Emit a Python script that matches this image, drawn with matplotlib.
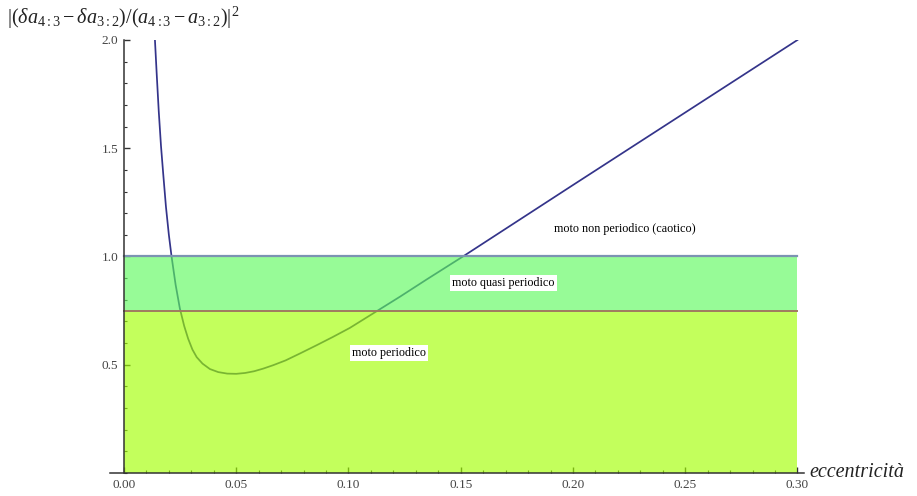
import matplotlib
matplotlib.use("Agg")
import matplotlib.pyplot as plt
from matplotlib.ticker import MultipleLocator, FormatStrFormatter

plt.rcParams["mathtext.fontset"] = "custom"
plt.rcParams["mathtext.rm"] = "Liberation Serif"
plt.rcParams["mathtext.it"] = "Liberation Serif:italic"
plt.rcParams["font.family"] = ["Liberation Serif", "DejaVu Serif"]

# eccentricity vs squared relative width of the resonances
ecc = [0.0138, 0.0146, 0.0155, 0.0165, 0.0175, 0.0187, 0.0200, 0.0212,
       0.0230, 0.0249, 0.0268, 0.0286, 0.0305, 0.0324, 0.0350, 0.0383,
       0.0420, 0.0460, 0.0500, 0.0540, 0.0580, 0.0620, 0.0665, 0.0720,
       0.0784, 0.0858, 0.0930, 0.1006, 0.1130, 0.1229, 0.1350, 0.1510,
       0.2000, 0.3000]
ratio = [2.00, 1.84, 1.67, 1.51, 1.38, 1.23, 1.10, 1.00,
         0.87, 0.76, 0.68, 0.62, 0.57, 0.535, 0.505, 0.480,
         0.466, 0.459, 0.458, 0.462, 0.470, 0.482, 0.498, 0.520,
         0.552, 0.590, 0.628, 0.670, 0.750, 0.814, 0.895, 1.000,
         1.330, 2.000]

# regime thresholds
periodic_max = 0.75
quasi_max = 1.0
e_max = 0.30

x_ticks = [0.00, 0.05, 0.10, 0.15, 0.20, 0.25, 0.30]
y_ticks = [0.5, 1.0, 1.5, 2.0]

fig = plt.figure(figsize=(9.17, 4.96), dpi=100)
ax = fig.add_axes([0.12, 0.0464, 0.757, 0.873])

# curve sits under the translucent bands, so it shows through tinted
ax.plot(ecc, ratio, color="#34348a", lw=1.25, zorder=1)

ax.fill_between([0, e_max], 0, periodic_max, color=(0.63, 1.0, 0.0),
                alpha=0.64, lw=0, zorder=2)
ax.fill_between([0, e_max], periodic_max, quasi_max, color=(0.36, 0.975, 0.36),
                alpha=0.64, lw=0, zorder=2)
ax.plot([0, e_max], [quasi_max, quasi_max], color="#7c93b2", lw=1.6, zorder=3)
ax.plot([0, e_max], [periodic_max, periodic_max], color="#a07a60", lw=1.4, zorder=3)

box = dict(facecolor="white", edgecolor="none", pad=1.5)
ax.text(0.223, 1.127, "moto non periodico (caotico)", ha="center", va="center",
        fontsize=8.7, zorder=4)
ax.text(0.169, 0.877, "moto quasi periodico", ha="center", va="center",
        fontsize=8.7, bbox=box, zorder=4)
ax.text(0.118, 0.554, "moto periodico", ha="center", va="center",
        fontsize=8.7, bbox=box, zorder=4)

ax.set_xlim(-0.0062, 0.303)
ax.set_ylim(0, 2.0)
for side in ("top", "right"):
    ax.spines[side].set_visible(False)
ax.spines["left"].set_position(("data", 0))
for side in ("left", "bottom"):
    ax.spines[side].set_color("#333333")
    ax.spines[side].set_linewidth(1.1)
    ax.spines[side].set_zorder(5)

ax.set_xticks(x_ticks)
ax.set_yticks(y_ticks)
ax.xaxis.set_major_formatter(FormatStrFormatter("%.2f"))
ax.yaxis.set_major_formatter(FormatStrFormatter("%.1f"))
ax.xaxis.set_minor_locator(MultipleLocator(0.01))
ax.yaxis.set_minor_locator(MultipleLocator(0.1))
ax.tick_params(which="both", direction="in", color="#333333", labelsize=9.5,
               labelcolor="#444444")
ax.tick_params(which="major", length=4, width=1)
ax.tick_params(which="minor", length=2.3, width=0.8)
ax.tick_params(axis="x", pad=4)
ax.tick_params(axis="y", pad=4)
for t in ax.get_xticklines() + ax.get_yticklines():
    t.set_zorder(6)

fig.text(0.008, 0.99, r"$|(\delta a_{4:3}-\delta a_{3:2})/(a_{4:3}-a_{3:2})|^2$",
         ha="left", va="top", fontsize=14.5, color="#222222")
ax.text(1.007, 0.0, "eccentricità", transform=ax.transAxes, ha="left",
        va="center", fontsize=14.5, style="italic", color="#222222")

fig.savefig("out.png", dpi=100)
